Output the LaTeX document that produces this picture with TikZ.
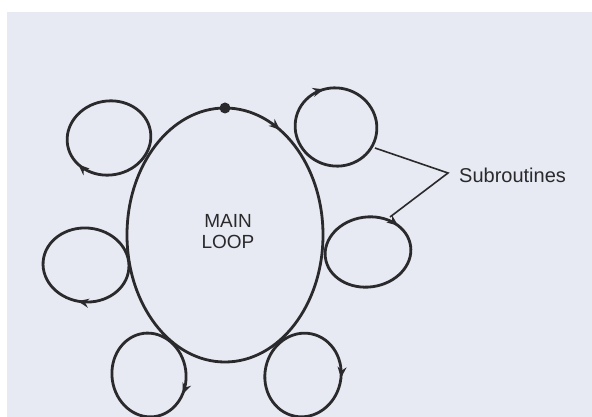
\documentclass[tikz,border=0pt]{standalone}
\usepackage{fontspec}
\setmainfont{Liberation Sans}
\usetikzlibrary{decorations.markings,arrows.meta}
\definecolor{bgpaper}{HTML}{E7E9F3}
\definecolor{ink}{HTML}{2A2A2C}
\tikzset{
  loopline/.style={draw=ink, line width=2.8pt},
  looparrow/.style={loopline, postaction={decorate},
    decoration={markings, mark=at position #1 with {\arrow[ink]{Stealth[length=11pt,width=9pt]}}}},
  leader/.style={draw=ink, line width=1.6pt},
  lbl/.style={text=ink, font=\fontsize{19}{21}\selectfont, inner sep=0pt}
}
\begin{document}
\begin{tikzpicture}[x=1pt,y=-1pt]
  \useasboundingbox (0,0) rectangle (592,417);
  \fill[white] (0,0) rectangle (592,417);
  \fill[bgpaper] (7,12) rectangle (592,417);
  % main loop
  \coordinate (mc) at (225,235);
  \draw[looparrow=0.835] (mc) ellipse [x radius=98, y radius=127];
  \node[circle, fill=ink, inner sep=0pt, minimum size=11pt] (dot) at (225,108) {};
  \node[lbl, align=center] (main) at (228,232) {MAIN\\LOOP};
  % subroutine loops
  \coordinate (tl) at (109,138);
  \coordinate (tr) at (336,127);
  \coordinate (rm) at (368,252);
  \coordinate (lm) at (86,265);
  \coordinate (bl) at (149,375);
  \coordinate (br) at (303,375);
  \draw[looparrow=0.41] (tl) ellipse [x radius=42, y radius=37, rotate=10];
  \draw[looparrow=0.66] (tr) ellipse [x radius=41, y radius=39, rotate=-15];
  \draw[looparrow=0.90] (rm) ellipse [x radius=43, y radius=35, rotate=8];
  \draw[looparrow=0.27] (lm) ellipse [x radius=43, y radius=37, rotate=-5];
  \draw[looparrow=0.10] (bl) ellipse [x radius=37, y radius=42, rotate=8];
  \draw[looparrow=0.98] (br) ellipse [x radius=38, y radius=42, rotate=-12];
  % label and leaders
  \node[lbl, anchor=west, font=\fontsize{20}{22}\selectfont] (sub) at (459,175) {Subroutines};
  \coordinate (j) at (448,173);
  \coordinate (trend) at (375,148);
  \coordinate (rmend) at (390,217);
  \draw[leader] (trend) -- (j) -- (rmend);
\end{tikzpicture}
\end{document}
